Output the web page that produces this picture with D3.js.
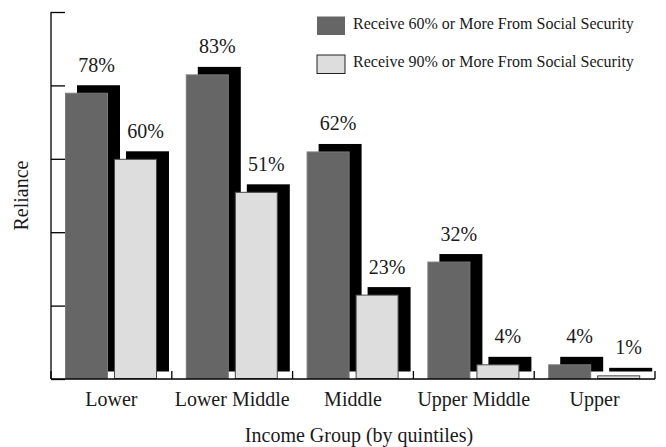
<!DOCTYPE html>
<html>
<head>
<meta charset="utf-8">
<script src="https://cdn.jsdelivr.net/npm/d3@7"></script>
<style>
  html, body { margin: 0; padding: 0; background: #fff; }
  svg { display: block; }
  text { font-family: "Liberation Serif", "Times New Roman", serif; fill: #1a1a1a; }
</style>
</head>
<body>
<svg id="chart" width="666" height="447"></svg>
<script>
// Income quintiles and share of people relying on Social Security
const categories = ["Lower", "Lower Middle", "Middle", "Upper Middle", "Upper"];
const seriesNames = [
  "Receive 60% or More From Social Security",
  "Receive 90% or More From Social Security"
];
const receive60 = [78, 83, 62, 32, 4];
const receive90 = [60, 51, 23, 4, 1];
const yTicks = [0, 20, 40, 60, 80, 100];

const fills = ["#666666", "#dddddd"];
const strokes = ["#7a7a7a", "#4a4a4a"];

const svg = d3.select("#chart");
const plot = { left: 51, right: 655, top: 12, bottom: 379 };

const x = d3.scaleBand().domain(categories).range([plot.left, plot.right]).padding(0);
const y = d3.scaleLinear().domain([0, 100]).range([plot.bottom, plot.top]);

// two bars per group, offset inside each band
const inner = d3.scaleBand().domain([0, 1]).range([14, 106]).paddingInner(6 / 49).paddingOuter(0);
const barW = inner.bandwidth();
const shadow = { dx: 12, dy: -7.5 };

const rows = [];
categories.forEach((c, i) => {
  [receive60[i], receive90[i]].forEach((v, s) => rows.push({ c, s, v }));
});

// drop shadows first, bars on top
svg.append("g").selectAll("rect").data(rows).join("rect")
  .attr("x", d => x(d.c) + inner(d.s) + shadow.dx)
  .attr("y", d => y(d.v) + shadow.dy)
  .attr("width", barW)
  .attr("height", d => y(0) - y(d.v))
  .attr("fill", "#000");

svg.append("g").selectAll("rect").data(rows).join("rect")
  .attr("x", d => x(d.c) + inner(d.s) + 0.5)
  .attr("y", d => y(d.v) + 0.5)
  .attr("width", barW - 1)
  .attr("height", d => Math.max(0, y(0) - y(d.v) - 1))
  .attr("fill", d => fills[d.s])
  .attr("stroke", d => strokes[d.s])
  .attr("stroke-width", 1);

// value labels
svg.append("g").selectAll("text").data(rows).join("text")
  .attr("x", d => x(d.c) + inner(d.s) + barW / 2 + 10)
  .attr("y", d => y(d.v) - 21)
  .attr("text-anchor", "middle")
  .attr("font-size", 20)
  .text(d => d.v + "%");

// y axis: ticks pointing into the plot, no labels
const yAxis = d3.axisRight(y).tickValues(yTicks).tickSize(14).tickFormat("");
const gy = svg.append("g").attr("transform", `translate(${plot.left},0)`).call(yAxis);
gy.select(".domain").remove();
gy.selectAll("line").attr("stroke", "#000").attr("stroke-width", 1.3);
svg.append("line")
  .attr("x1", plot.left).attr("x2", plot.left)
  .attr("y1", y(100)).attr("y2", y(0))
  .attr("stroke", "#000").attr("stroke-width", 1.3);

// x axis baseline with small upward ticks at group boundaries
const bounds = categories.map(c => x(c)).concat([x(categories[categories.length - 1]) + x.bandwidth()]);
svg.append("line")
  .attr("x1", plot.left).attr("x2", plot.right)
  .attr("y1", y(0)).attr("y2", y(0))
  .attr("stroke", "#000").attr("stroke-width", 1.5);
svg.append("g").selectAll("line").data(bounds).join("line")
  .attr("x1", d => d).attr("x2", d => d)
  .attr("y1", y(0)).attr("y2", y(0) - 8)
  .attr("stroke", "#000").attr("stroke-width", 1.3);

// category labels
svg.append("g").selectAll("text").data(categories).join("text")
  .attr("x", d => x(d) + x.bandwidth() / 2)
  .attr("y", 406)
  .attr("text-anchor", "middle")
  .attr("font-size", 20)
  .text(d => d);

// axis titles
svg.append("text")
  .attr("x", (plot.left + plot.right) / 2 + 6)
  .attr("y", 442)
  .attr("text-anchor", "middle")
  .attr("font-size", 20)
  .text("Income Group (by quintiles)");

svg.append("text")
  .attr("transform", `translate(28,${(plot.top + plot.bottom) / 2}) rotate(-90)`)
  .attr("text-anchor", "middle")
  .attr("font-size", 20)
  .text("Reliance");

// legend
const legend = svg.append("g").attr("transform", "translate(316.5,16)");
seriesNames.forEach((name, i) => {
  const g = legend.append("g").attr("transform", `translate(0,${i * 38.5})`);
  g.append("rect")
    .attr("x", 0.5).attr("y", 0.5)
    .attr("width", 28).attr("height", 18.5)
    .attr("fill", fills[i])
    .attr("stroke", i === 0 ? "none" : "#222")
    .attr("stroke-width", 1);
  g.append("text")
    .attr("x", 36.5)
    .attr("y", 12.7)
    .attr("font-size", 16)
    .text(name);
});
</script>
</body>
</html>
